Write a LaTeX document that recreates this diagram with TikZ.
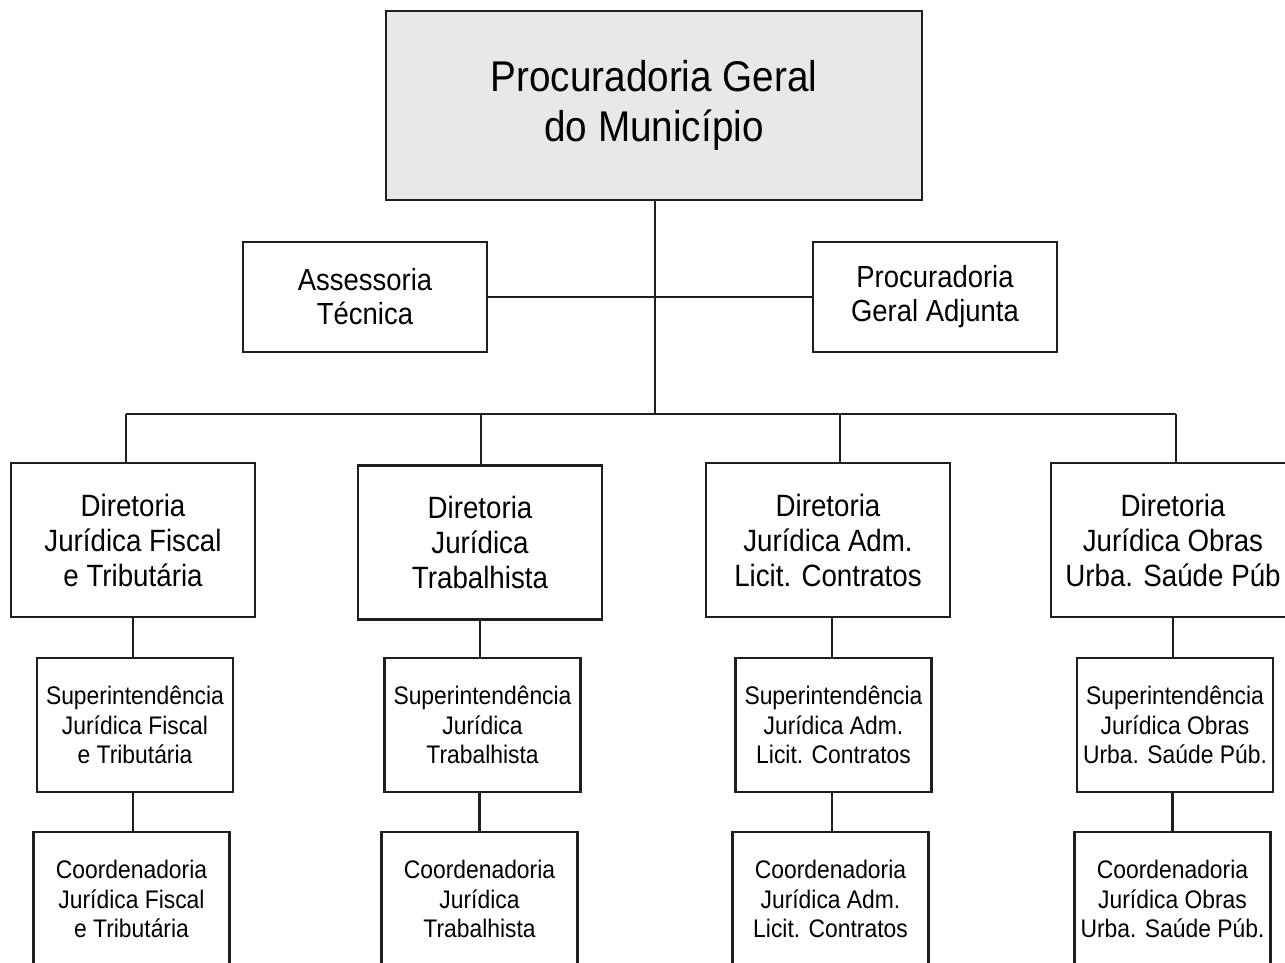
\documentclass[tikz,border=0pt]{standalone}
\usepackage{fontspec}
\setmainfont{Liberation Sans}[FakeStretch=0.9]
\begin{document}
\begin{tikzpicture}[x=1pt,y=-1pt,
  line width=2.6pt,
  ink/.style={draw=black!88},
  box/.style={ink, rectangle, inner sep=0pt, align=center, fill=white},
  headbox/.style={box, fill=gray!18, minimum width=536pt, minimum height=189pt,
    font=\fontsize{43}{50}\selectfont},
  sidebox/.style={box, minimum width=244pt, minimum height=110pt,
    font=\fontsize{30.5}{34}\selectfont},
  dirbox/.style={box, minimum width=244pt, minimum height=154pt,
    font=\fontsize{30.8}{35}\selectfont},
  subbox/.style={box, minimum width=196pt, minimum height=134pt,
    font=\fontsize{25.4}{29.5}\selectfont},
  link/.style={ink}
]
\useasboundingbox (0,0) rectangle (1285,963);
\clip (0,0) rectangle (1285,963);
\fill[white] (0,0) rectangle (1285,963);

% top level
\node[headbox] (pgm) at (654,105.5) {Procuradoria Geral\\do Município};

% advisory level
\node[sidebox] (ass) at (365,297) {Assessoria\\Técnica};
\node[sidebox] (adj) at (935,297) {Procuradoria\\Geral Adjunta};

% directorates
\node[dirbox] (d1) at (133,540) {Diretoria\\Jurídica Fiscal\\e Tributária};
\node[dirbox] (d2) at (480,542.5) {Diretoria\\Jurídica\\Trabalhista};
\node[dirbox] (d3) at (828,540) {Diretoria\\Jurídica Adm.\\Licit. Contratos};
\node[dirbox] (d4) at (1173,540) {Diretoria\\Jurídica Obras\\Urba. Saúde Púb};

% superintendencies
\node[subbox] (s1) at (135,725) {Superintendência\\Jurídica Fiscal\\e Tributária};
\node[subbox] (s2) at (482.5,725) {Superintendência\\Jurídica\\Trabalhista};
\node[subbox] (s3) at (833.5,725) {Superintendência\\Jurídica Adm.\\Licit. Contratos};
\node[subbox] (s4) at (1175,725) {Superintendência\\Jurídica Obras\\Urba. Saúde Púb.};

% coordinations
\node[subbox] (c1) at (131.5,899) {Coordenadoria\\Jurídica Fiscal\\e Tributária};
\node[subbox] (c2) at (479.5,899) {Coordenadoria\\Jurídica\\Trabalhista};
\node[subbox] (c3) at (830.5,899) {Coordenadoria\\Jurídica Adm.\\Licit. Contratos};
\node[subbox] (c4) at (1172.5,899) {Coordenadoria\\Jurídica Obras\\Urba. Saúde Púb.};

% connectors
\coordinate (hub) at (655,414);
\coordinate (b1) at (126,414);
\coordinate (b2) at (481,414);
\coordinate (b3) at (840,414);
\coordinate (b4) at (1176,414);

\draw[link] (pgm.south -| hub) -- (hub);
\draw[link] (ass.east) -- (adj.west);
\draw[link] (b1) -- (b4);
\draw[link] (b1) -- (b1 |- d1.north);
\draw[link] (b2) -- (b2 |- d2.north);
\draw[link] (b3) -- (b3 |- d3.north);
\draw[link] (b4) -- (b4 |- d4.north);

\draw[link] (d1.south -| s1) ++(-2,0) -- ++(0,40);
\draw[link] (d2.south) -- (d2.south |- s2.north);
\draw[link] (d3.south -| s3) ++(-1.5,0) -- ++(0,40.5);
\draw[link] (d4.south) -- (d4.south |- s4.north);

\draw[link] (s1.south -| c1) ++(1.5,0) -- ++(0,40);
\draw[link] (s2.south -| c2) -- (c2.north);
\draw[link] (s3.south -| c3) ++(1.5,0) -- ++(0,40);
\draw[link] (s4.south -| c4) -- (c4.north);
\end{tikzpicture}
\end{document}
